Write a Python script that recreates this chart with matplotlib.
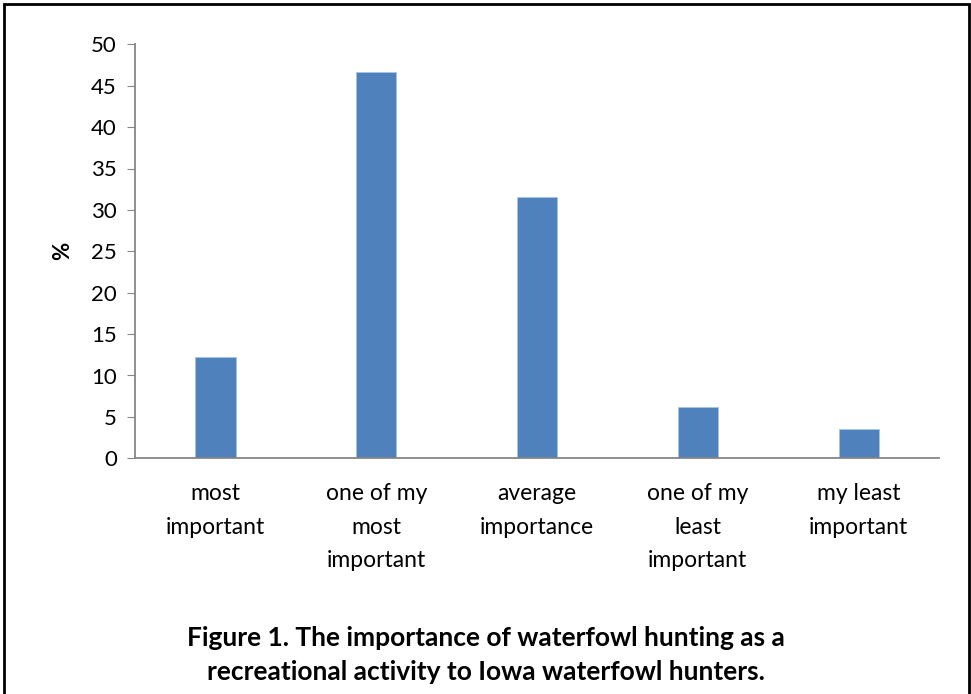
import matplotlib
matplotlib.use("Agg")
import matplotlib.pyplot as plt
from matplotlib.patches import Rectangle

categories = ["most\nimportant", "one of my\nmost\nimportant", "average\nimportance",
              "one of my\nleast\nimportant", "my least\nimportant"]
values = [12.2, 46.7, 31.5, 6.2, 3.5]
yticks = [0, 5, 10, 15, 20, 25, 30, 35, 40, 45, 50]
caption = ("Figure 1. The importance of waterfowl hunting as a\n"
           "recreational activity to Iowa waterfowl hunters.")

plt.rcParams["font.family"] = ["Lato", "DejaVu Sans"]

fig = plt.figure(figsize=(9.71, 6.94), dpi=100)
ax = fig.add_axes([135 / 971, 1 - 458.3 / 694, 804 / 971, 414 / 694])

x = list(range(len(values)))
ax.bar(x, values, width=0.25, color="#4f81bd", edgecolor="#a9c3e3", linewidth=0.6)
ax.set_xlim(-0.5, len(values) - 0.5)
ax.set_ylim(0, 50)
ax.set_yticks(yticks)
ax.set_xticks(x)
ax.set_xticklabels(categories, fontsize=16.5, linespacing=1.72, va="top")
ax.tick_params(axis="x", length=0, pad=18)
ax.tick_params(axis="y", length=6, color="#868686", labelsize=16, pad=7)
for s in ["top", "right"]:
    ax.spines[s].set_visible(False)
for s in ["left", "bottom"]:
    ax.spines[s].set_color("#868686")
    ax.spines[s].set_linewidth(1.3)
ax.set_ylabel("%", fontsize=16, fontweight="bold", labelpad=13)

fig.text(0.5, 1 - 655 / 694, caption, ha="center", va="center",
         fontsize=19, fontweight="bold", linespacing=1.5)

fig.patches.append(Rectangle((4 / 971, -0.02), 965 / 971, 1.02 - 4 / 694,
                             transform=fig.transFigure, fill=False,
                             edgecolor="black", linewidth=2))

fig.savefig("out.png", dpi=100)
